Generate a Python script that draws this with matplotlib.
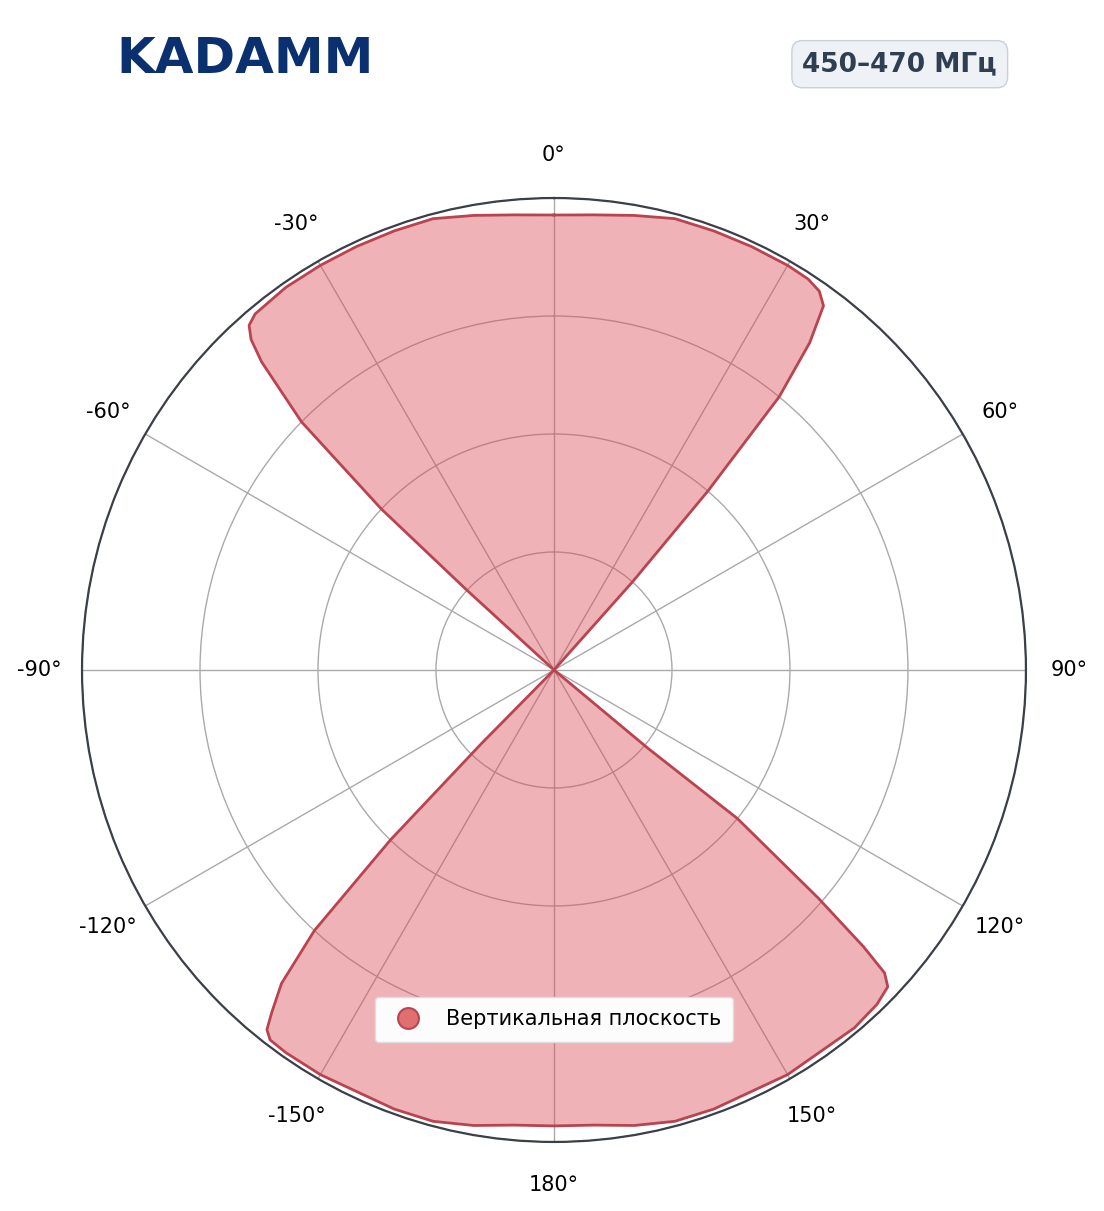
import numpy as np
import matplotlib.pyplot as plt
from matplotlib.lines import Line2D

# pattern, degrees clockwise from top, normalised radius
angles = [0, 5, 10, 15, 20, 25, 30, 33, 35, 36.5, 38, 39.5, 40.7, 41.7, 44,
          128, 129.8, 129.0, 130.8, 131.8, 132.5, 133.5, 136, 140, 150, 160, 165, 170, 175,
          180, 185, 190, 195, 200, 210, 215, 217.5, 218.6, 219.5, 221, 222.6, 223.9, 224.6, 226,
          310, 312.5, 313, 314.5, 316.5, 317.5, 318.5, 320, 325, 330, 335, 340, 345, 350, 355, 360]
radii = [0.964, 0.968, 0.978, 0.99, 0.99, 0.99, 0.99, 0.988, 0.98, 0.96, 0.88, 0.75, 0.5, 0.25, 0.0,
         0.0, 0.26, 0.5, 0.74, 0.88, 0.95, 0.975, 0.985, 0.99, 0.99, 0.99, 0.99, 0.98, 0.968,
         0.966, 0.968, 0.98, 0.99, 0.99, 0.99, 0.99, 0.988, 0.975, 0.94, 0.88, 0.75, 0.5, 0.22, 0.0,
         0.0, 0.25, 0.5, 0.75, 0.9, 0.95, 0.975, 0.985, 0.99, 0.99, 0.99, 0.99, 0.99, 0.978, 0.968, 0.964]
tick_deg = [0, 30, 60, 90, 120, 150, 180, 210, 240, 270, 300, 330]
tick_lbl = ['0°', '30°', '60°', '90°', '120°', '150°', '180°',
            '-150°', '-120°', '-90°', '-60°', '-30°']
band = '450–470 МГц'
series_name = 'Вертикальная плоскость'

fig = plt.figure(figsize=(11.04, 12.11), dpi=100)
ax = fig.add_axes([0.0743, 0.057, 0.855, 0.7795], projection='polar')
ax.set_theta_zero_location('N')
ax.set_theta_direction(-1)
ax.set_axisbelow(True)

th = np.deg2rad(angles)
r = np.array(radii)
ax.fill(th, r, color='#db4a55', alpha=0.42, lw=0, zorder=2)
ax.plot(th, r, color='#b94450', lw=2, zorder=3)

ax.set_ylim(0, 1)
ax.set_yticks([0.25, 0.5, 0.75, 1.0])
ax.set_yticklabels([])
ax.set_xticks(np.deg2rad(tick_deg))
ax.set_xticklabels(tick_lbl, fontsize=15)
ax.tick_params(axis='x', pad=24, length=0)
ax.grid(True, color='#aaaaaa', lw=1)
ax.spines['polar'].set_color('#3a3f48')
ax.spines['polar'].set_linewidth(1.6)

h = Line2D([], [], marker='o', ls='', markersize=15, markerfacecolor='#e07070',
           markeredgecolor='#b94450', markeredgewidth=1.5)
ax.legend([h], [series_name], loc='center', bbox_to_anchor=(0.5, 0.13),
          fontsize=15, frameon=True, facecolor='#fdfcfc', edgecolor='#dddddd',
          framealpha=1, borderpad=0.6)

fig.text(0.815, 0.947, band, fontsize=19, fontweight='bold', color='#2f3e50',
         ha='center', va='center',
         bbox=dict(boxstyle='round,pad=0.4', facecolor='#eef2f7', edgecolor='#c8d0dc'))
fig.text(0.105, 0.951, 'KADAMM', fontsize=36, fontweight='bold', color='#0a3070',
         ha='left', va='center')

fig.savefig('out.png')
